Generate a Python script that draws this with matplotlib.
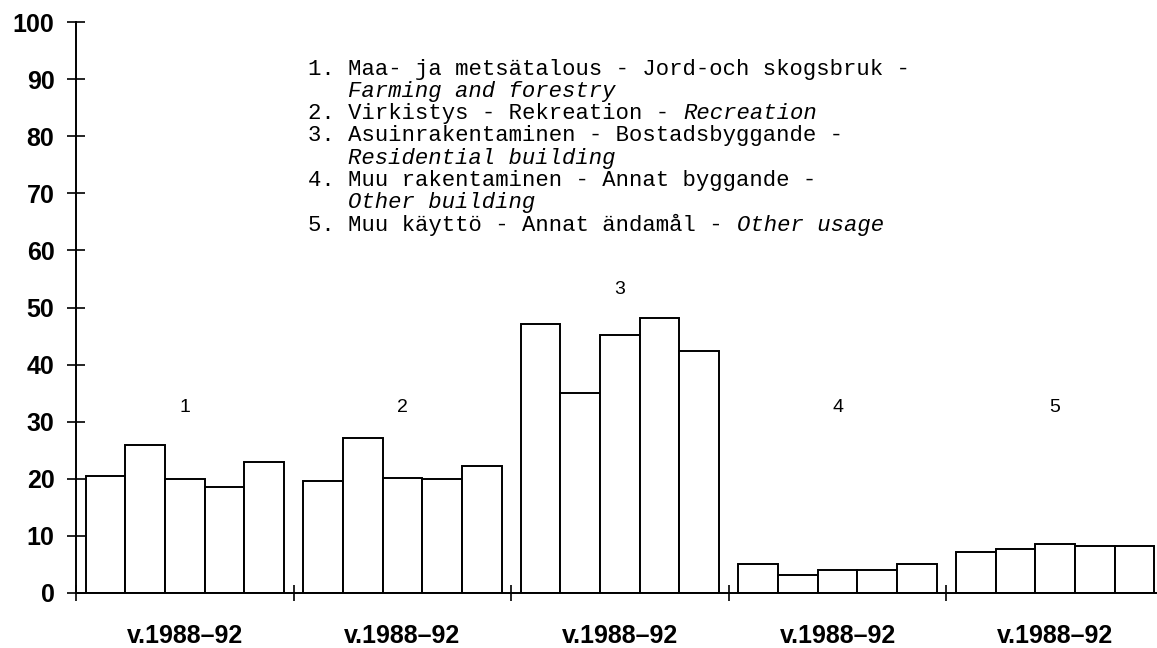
import numpy as np
import matplotlib.pyplot as plt

# land use shares (%), five bars per usage group
group_names = ['1', '2', '3', '4', '5']
period_labels = ['v.1988–92'] * 5
farming = [20.5, 26.0, 20.0, 18.6, 23.0]
recreation = [19.6, 27.1, 20.2, 19.9, 22.2]
residential = [47.1, 35.0, 45.1, 48.1, 42.3]
other_building = [5.1, 3.2, 4.1, 4.1, 5.1]
other_usage = [7.2, 7.7, 8.6, 8.2, 8.2]
groups = [farming, recreation, residential, other_building, other_usage]

y_ticks = [0, 10, 20, 30, 40, 50, 60, 70, 80, 90, 100]

# legend lines: (plain part, italic part)
legend_lines = [
    ('1. Maa- ja metsätalous - Jord-och skogsbruk -', ''),
    ('   ', 'Farming and forestry'),
    ('2. Virkistys - Rekreation - ', 'Recreation'),
    ('3. Asuinrakentaminen - Bostadsbyggande -', ''),
    ('   ', 'Residential building'),
    ('4. Muu rakentaminen - Annat byggande -', ''),
    ('   ', 'Other building'),
    ('5. Muu käyttö - Annat ändamål - ', 'Other usage'),
]

W, H = 1157, 648
fig = plt.figure(figsize=(W / 100, H / 100), dpi=100)
ax = fig.add_axes([76 / W, 1 - 593 / H, 1 - 76 / W, (593 - 22) / H])

stride = 5.485   # group width in bar widths
margin = (stride - 5) / 2

centers = []
for g, vals in enumerate(groups):
    x = g * stride + margin + np.arange(len(vals)) + 0.5
    ax.bar(x, vals, width=1.0, color='white', edgecolor='black', linewidth=1.4, zorder=2)
    c = g * stride + stride / 2
    centers.append(c)
    ax.text(c, max(32.5, max(vals) + 5), group_names[g], ha='center', va='center',
            fontsize=14, family='Liberation Sans')

ax.set_xlim(0, 27.25)
ax.set_ylim(0, 100)

for s in ['top', 'right']:
    ax.spines[s].set_visible(False)
for s in ['left', 'bottom']:
    ax.spines[s].set_linewidth(1.4)

ax.set_yticks(y_ticks)
ax.set_yticklabels([str(t) for t in y_ticks], fontsize=18, fontweight='bold',
                   family='Liberation Sans')
ax.tick_params(axis='y', direction='inout', length=13, width=1.2, pad=9)

ax.set_xticks(centers)
ax.set_xticklabels(period_labels, fontsize=18, fontweight='bold', family='Liberation Sans')
ax.tick_params(axis='x', which='major', length=0, pad=22)
ax.set_xticks([g * stride for g in range(5)], minor=True)
ax.tick_params(axis='x', which='minor', direction='inout', length=11.5, width=1.2)

# legend text, placed in figure pixels
x0, y0, dy, cw = 308, 69, 22.3, 13.4
for i, (plain, ital) in enumerate(legend_lines):
    y = 1 - (y0 + i * dy) / H
    fig.text(x0 / W, y, plain, fontsize=16, family='Liberation Mono', va='center')
    if ital:
        fig.text((x0 + len(plain) * cw) / W, y, ital, fontsize=16, family='Liberation Mono',
                 style='italic', va='center')

fig.savefig('out.png', dpi=100)
